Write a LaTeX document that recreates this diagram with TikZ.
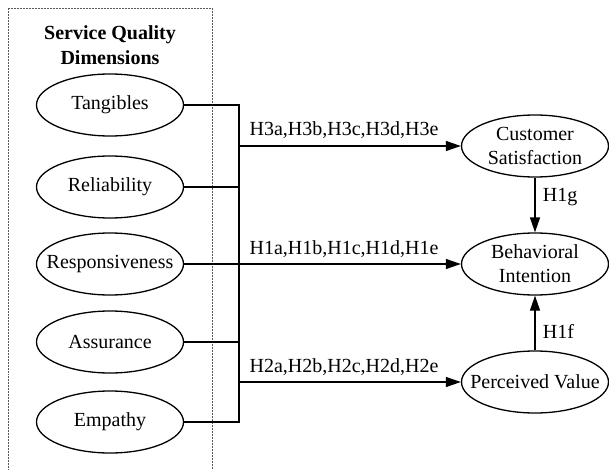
\documentclass[tikz,border=0pt]{standalone}
\usepackage{fontspec}
\setmainfont{Liberation Serif}
\usetikzlibrary{shapes.geometric,arrows.meta}

\tikzset{
  construct/.style={draw, ellipse, line width=1.3pt, inner xsep=-14pt, inner ysep=0pt,
    minimum width=147pt, minimum height=62pt, align=center},
  link/.style={line width=1.3pt},
  arr/.style={link, -{Triangle[length=15pt,width=10pt]}},
  hyp/.style={inner sep=0pt}
}

\begin{document}
\begin{tikzpicture}[x=1pt, y=-1pt, every node/.style={font=\fontsize{20}{24}\selectfont}]
    \useasboundingbox (0,0) rectangle (609,470);

    % Dotted frame around the service quality dimensions
    \draw[line width=0.7pt, gray!70!black, dash pattern=on 0.8pt off 0.7pt] (8,8) rectangle (212,480);
    \node[align=center, font=\fontsize{20}{25}\selectfont\bfseries] (title) at (110,45) {Service Quality\\Dimensions};

    % Service quality dimensions
    \node[construct] (tan)  at (110,105) {Tangibles};
    \node[construct] (rel)  at (110,187) {Reliability};
    \node[construct] (resp) at (110,264) {Responsiveness};
    \node[construct] (ass)  at (110,342) {Assurance};
    \node[construct] (emp)  at (110,422) {Empathy};

    % Outcome constructs
    \node[construct] (cs) at (535,146) {Customer\\Satisfaction};
    \node[construct] (bi) at (535,264) {Behavioral\\Intention};
    \node[construct] (pv) at (535,382) {Perceived Value};

    % Collecting bus on the right of the dimensions
    \coordinate (bus) at (239,0);
    \draw[link] (tan.east) -| (bus |- emp.east) -- (emp.east);
    \foreach \n in {rel,resp,ass}
        \draw[link] (\n.east) -- (\n.east -| bus);

    % Hypothesised paths from the bus
    \draw[arr] (bus |- cs.west) -- node[hyp, pos=0, anchor=base west, xshift=10pt, yshift=10pt] {H3a,H3b,H3c,H3d,H3e} (cs.west);
    \draw[arr] (bus |- bi.west) -- node[hyp, pos=0, anchor=base west, xshift=10pt, yshift=10pt] {H1a,H1b,H1c,H1d,H1e} (bi.west);
    \draw[arr] (bus |- pv.west) -- node[hyp, pos=0, anchor=base west, xshift=10pt, yshift=10pt] {H2a,H2b,H2c,H2d,H2e} (pv.west);

    % Paths into behavioral intention
    \draw[arr] (cs) -- node[right, pos=0.36, xshift=4pt] {H1g} (bi);
    \draw[arr] (pv) -- node[right, pos=0.35, xshift=4pt] {H1f} (bi);
\end{tikzpicture}
\end{document}
